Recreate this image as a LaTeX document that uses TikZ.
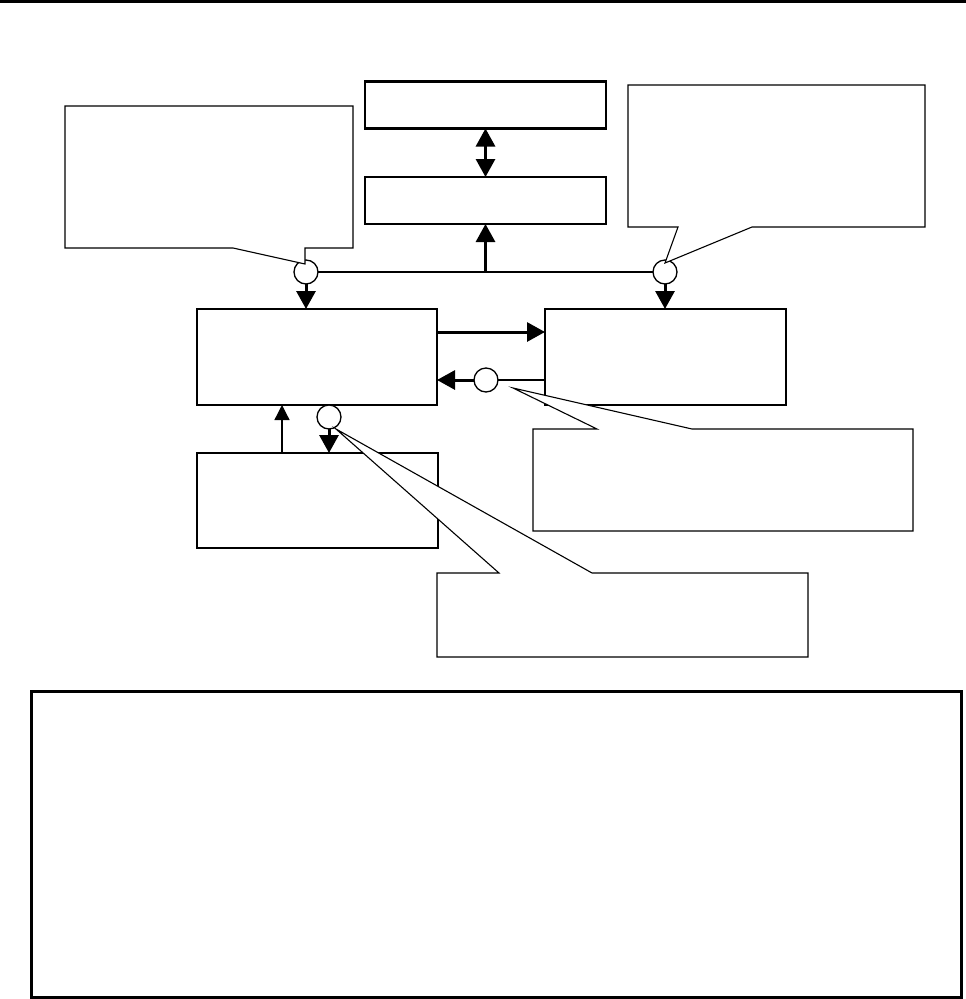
\documentclass[tikz,border=0pt]{standalone}
\usetikzlibrary{arrows.meta}
\begin{document}
\begin{tikzpicture}[x=1pt,y=-1pt,
  blk/.style={draw,line width=2.5pt,fill=white,inner sep=0pt,outer sep=0pt},
  junc/.style={circle,draw,line width=1.3pt,fill=white,minimum size=24pt,inner sep=0pt,outer sep=0pt},
  callout/.style={draw,line width=1.1pt,fill=white,line join=miter},
  bigarrow/.style={line width=3pt,-{Triangle[length=18pt,width=19pt]}},
  thinarrow/.style={line width=1.3pt,-{Triangle[length=15pt,width=15pt]}},
  busline/.style={line width=2.5pt}]
\useasboundingbox (0,0) rectangle (966,999);
\draw[line width=3.5pt] (0,1.5) -- (966,1.5);
% boxes
\node[blk,minimum width=241pt,minimum height=47pt] (A) at (485.5,105) {};
\node[blk,minimum width=241pt,minimum height=47pt] (B) at (485.5,200.5) {};
\node[blk,minimum width=240pt,minimum height=96pt] (C) at (317,357) {};
\node[blk,minimum width=241pt,minimum height=96pt] (D) at (665.5,357) {};
\node[blk,minimum width=241pt,minimum height=95pt] (E) at (317.5,500.5) {};
% junctions
\node[junc] (jl) at (306,272) {};
\node[junc] (jr) at (665,272) {};
\node[junc] (jm) at (486,380) {};
\node[junc] (jb) at (329,417) {};
\coordinate (bus) at (485.5,272);
% connectors
\draw[busline] (jl.east) -- (jr.west);
\draw[line width=3pt,{Triangle[length=18pt,width=19pt]}-{Triangle[length=18pt,width=19pt]}] (A.south) -- (B.north);
\draw[bigarrow] (bus) -- (B.south);
\draw[bigarrow] (jl.south) -- (jl.south |- C.north);
\draw[bigarrow] (jr.south) -- (jr.south |- D.north);
\draw[bigarrow] (C.east |- 0,332) -- (D.west |- 0,332);
\draw[busline] (D.west |- jm) -- (jm.east);
\draw[bigarrow] (jm.west) -- (C.east |- jm);
\draw[thinarrow] (282,0 |- E.north) -- (282,0 |- C.south);
\draw[bigarrow] (jb.south) -- (jb.south |- E.north);
% callouts
\draw[callout] (65,106) -- (353,106) -- (353,248) -- (305,248) -- (305,264) -- (233,248) -- (65,248) -- cycle;
\draw[callout] (628,85) -- (925,85) -- (925,227) -- (752,227) -- (665,263) -- (678,227) -- (628,227) -- cycle;
\draw[callout] (533,429) -- (597,429) -- (513,388) -- (692,429) -- (913,429) -- (913,531) -- (533,531) -- cycle;
\draw[callout] (437,573) -- (499,573) -- (336,429) -- (592,573) -- (808,573) -- (808,657) -- (437,657) -- cycle;
% bottom panel
\draw[line width=3pt] (31,691) rectangle (961,997);
\end{tikzpicture}
\end{document}
